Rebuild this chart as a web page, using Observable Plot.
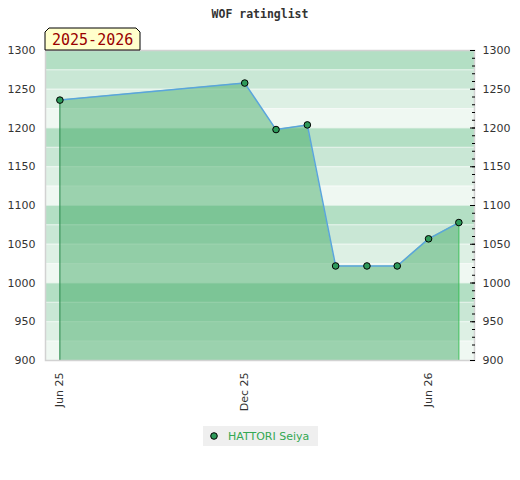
<!DOCTYPE html>
<html>
<head>
<meta charset="utf-8">
<script src="https://cdn.jsdelivr.net/npm/d3@7"></script>
<script src="https://cdn.jsdelivr.net/npm/@observablehq/plot@0.6"></script>
<style>
  html, body { margin: 0; padding: 0; background: #fff; }
  #chart { width: 520px; height: 480px; }
</style>
</head>
<body>
<div id="chart"></div>
<script>
(function () {
// ---- data ----
const title = "WOF ratinglist";
const seasonLabel = "2025-2026";
const playerName = "HATTORI Seiya";
const dates = ["2025-06-01","2025-12-01","2026-01-01","2026-02-01","2026-03-01","2026-04-01","2026-05-01","2026-06-01","2026-07-01"];
const ratings = [1236, 1258, 1198, 1204, 1022, 1022, 1022, 1057, 1078];
const xTickDates = ["2025-06-01","2025-12-01","2026-06-01"];
const yTicks = [900, 950, 1000, 1050, 1100, 1150, 1200, 1250, 1300];
const bandColors = ["#b3dfc4", "#c9e7d5", "#ddf0e4", "#eff8f2"];

const data = dates.map((d, i) => ({date: new Date(d), rating: ratings[i]}));
const x0 = new Date("2025-05-17T18:00Z"), x1 = new Date("2026-07-16T12:00Z");
const bands = d3.range(900, 1300, 25).map(lo => ({lo, hi: lo + 25, fill: bandColors[3 - ((lo - 900) / 25) % 4]}));

const first = data[0], last = data[data.length - 1];

const plot = Plot.plot({
  width: 520,
  height: 480,
  marginTop: 50,
  marginLeft: 45,
  marginRight: 46,
  marginBottom: 120,
  style: {fontFamily: "DejaVu Sans", fontSize: "11px", color: "#333", background: "#fff"},
  x: {type: "utc", domain: [x0, x1]},
  y: {domain: [900, 1300]},
  marks: [
    Plot.rect(bands, {x1: () => x0, x2: () => x1, y1: "lo", y2: "hi", fill: "fill"}),
    Plot.ruleY(bands, {y: "hi", stroke: "#fff", strokeOpacity: 0.5, strokeWidth: 1}),
    Plot.areaY(data, {x: "date", y1: 900, y2: "rating", fill: "#3da862", fillOpacity: 0.47}),
    Plot.ruleX([first], {x: "date", y1: 900, y2: "rating", stroke: "#2e8b50", strokeWidth: 1}),
    Plot.ruleX([last], {x: "date", y1: 900, y2: "rating", stroke: "#2fb84f", strokeWidth: 1}),
    Plot.line(data, {x: "date", y: "rating", stroke: "#5aa5dc", strokeWidth: 1.5}),
    Plot.dot(data, {x: "date", y: "rating", r: 3.3, fill: "#2e9a5a", stroke: "#000", strokeWidth: 1}),
    Plot.frame({stroke: "#d2d2d2", strokeWidth: 1.5}),
    Plot.axisY({anchor: "left", ticks: yTicks, tickFormat: "d", tickSize: 0, tickPadding: 10, fill: "#333"}),
    Plot.axisY({anchor: "right", ticks: yTicks, tickFormat: "d", tickSize: 0, tickPadding: 8, fill: "#333"}),
    Plot.axisY({anchor: "right", ticks: d3.range(900, 1301, 10), tickSize: -3, text: null, stroke: "#000"}),
    Plot.axisY({anchor: "right", ticks: yTicks, tickSize: -5, text: null, stroke: "#000"}),
    Plot.axisX({anchor: "bottom", ticks: xTickDates.map(d => new Date(d)), tickFormat: d3.utcFormat("%b %y"), tickRotate: -90, tickSize: 0, tickPadding: 12, fill: "#333"}),
    Plot.text([title], {frameAnchor: "top", dy: -41, fontFamily: "DejaVu Sans Mono", fontWeight: "bold", fontSize: 11.5, fill: "#333"})
  ]
});

document.getElementById("chart").appendChild(plot);

// decorations: season label box and legend
const svg = d3.select(plot);
const ys = plot.scale("y");
const bx = 45;
const by = ys.apply(1300);
const g = svg.append("g").attr("text-anchor", "start");
const bw = 95, bh = 22, c = 4;
g.append("path")
  .attr("d", `M${bx},${by}V${by - bh + c}L${bx + c},${by - bh}H${bx + bw - c}L${bx + bw},${by - bh + c}V${by}Z`)
  .attr("fill", "#ffffcc").attr("stroke", "#000").attr("stroke-width", 1);
g.append("text").attr("x", bx + 7).attr("y", by - 5)
  .attr("font-family", "DejaVu Sans Mono").attr("font-size", 15).attr("fill", "#990000")
  .text(seasonLabel);

const lg = svg.append("g").attr("text-anchor", "start");
lg.append("rect").attr("x", 203).attr("y", 426).attr("width", 115).attr("height", 20).attr("fill", "#efefef");
lg.append("circle").attr("cx", 214).attr("cy", 436).attr("r", 3.3).attr("fill", "#2e9a5a").attr("stroke", "#000");
lg.append("text").attr("x", 228).attr("y", 440).attr("font-family", "DejaVu Sans").attr("font-size", 11).attr("fill", "#33a852").text(playerName);
})();
</script>
</body>
</html>
